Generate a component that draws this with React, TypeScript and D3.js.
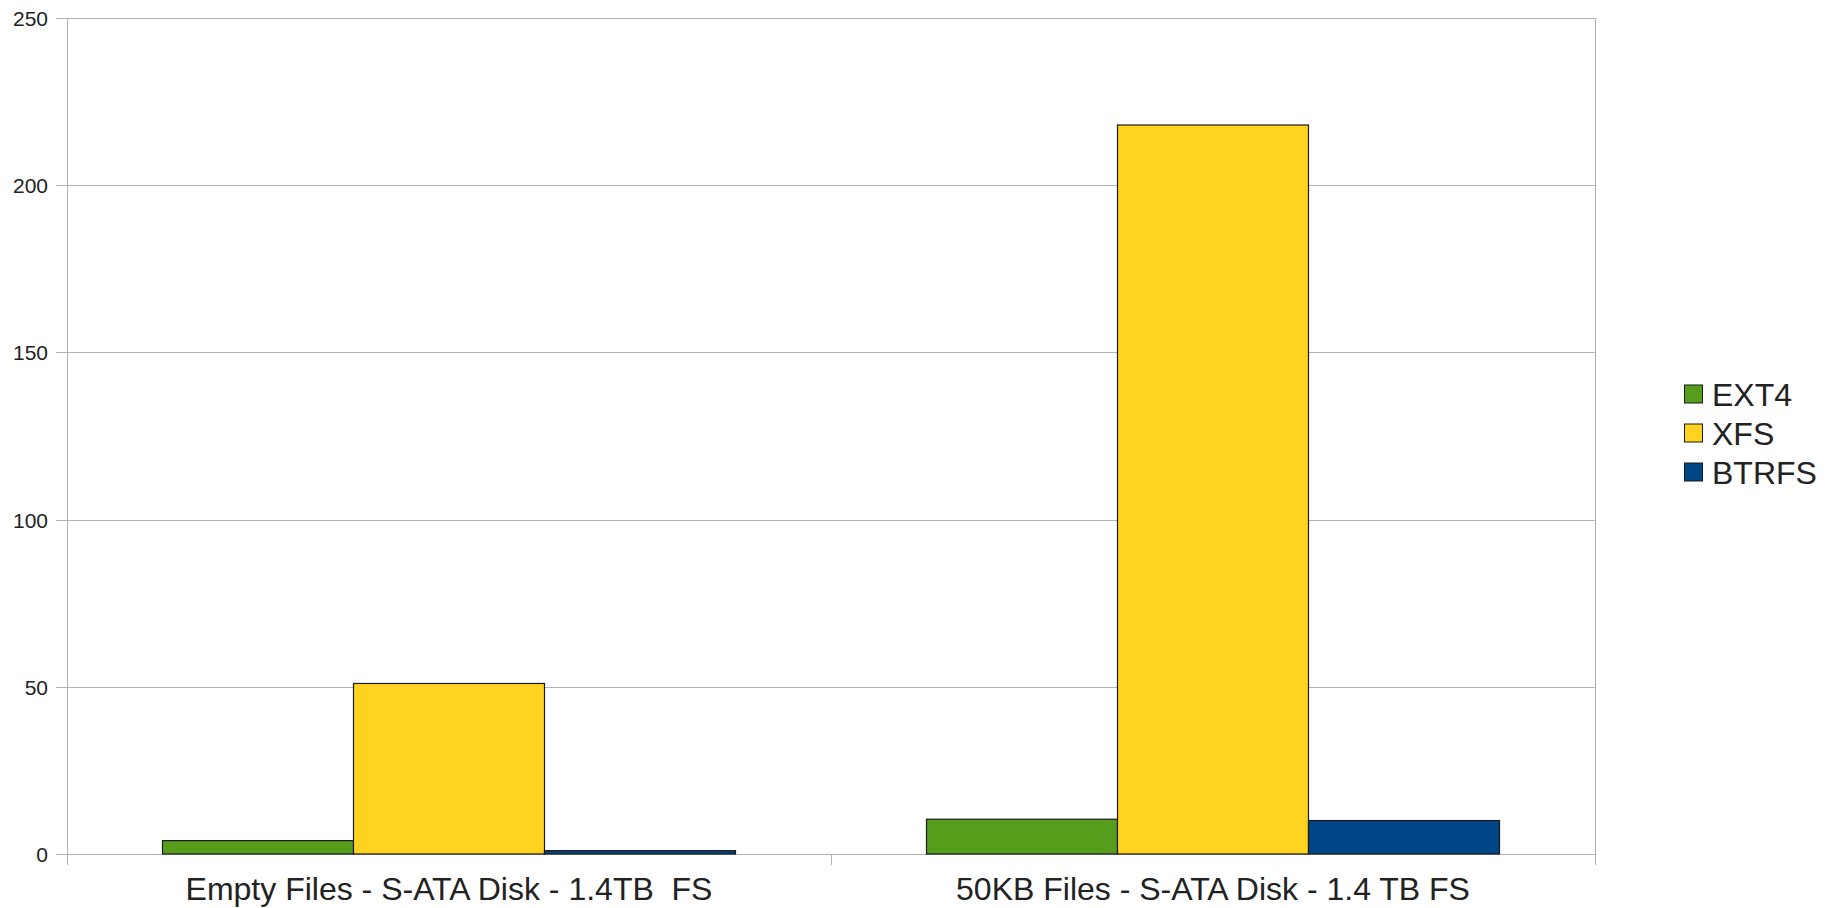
import React from "react";
import * as d3 from "d3";

const categories = [
  "Empty Files - S-ATA Disk - 1.4TB  FS",
  "50KB Files - S-ATA Disk - 1.4 TB FS",
];
const seriesNames = ["EXT4", "XFS", "BTRFS"];
const seriesColors = ["#579d1c", "#ffd320", "#004586"];
const ext4Values = [4, 10.4];
const xfsValues = [51, 218];
const btrfsValues = [1, 10];
const yTicks = [0, 50, 100, 150, 200, 250];

const seriesValues = [ext4Values, xfsValues, btrfsValues];

const W = 1835;
const H = 908;
const plot = { left: 67, right: 1595, top: 18, bottom: 854 };
const FONT = "'Liberation Sans', Arial, sans-serif";
const GRID = "#b3b3b3";

export default function App() {
  const x0 = d3
    .scaleBand<string>()
    .domain(categories)
    .range([plot.left, plot.right])
    .paddingInner(0.25)
    .paddingOuter(0.125);
  const x1 = d3
    .scaleBand<string>()
    .domain(seriesNames)
    .range([0, x0.bandwidth()])
    .padding(0);
  const y = d3.scaleLinear().domain([0, 250]).range([plot.bottom, plot.top]);

  const step = x0.step();
  const catEdges = [plot.left, ...categories.map((c, i) => plot.left + step * (i + 1))];

  const legendX = 1684;
  const legendY0 = 394.5;
  const legendStep = 39;

  return (
    <svg
      width={W}
      height={H}
      style={{ position: "absolute", left: 0, top: 0, background: "#fff" }}
      fontFamily={FONT}
    >
      <rect x={0} y={0} width={W} height={H} fill="#fff" />
      {/* horizontal grid lines with left tick stubs */}
      {yTicks.map((t) => (
        <g key={t}>
          <line
            x1={56}
            x2={plot.right}
            y1={Math.round(y(t)) + 0.5}
            y2={Math.round(y(t)) + 0.5}
            stroke={GRID}
            strokeWidth={1}
          />
          <text
            x={48}
            y={y(t) + 8}
            textAnchor="end"
            fontSize={21}
            fill="#222"
          >
            {t}
          </text>
        </g>
      ))}
      {/* left and right frame lines */}
      <line x1={plot.left + 0.5} x2={plot.left + 0.5} y1={plot.top} y2={865} stroke={GRID} />
      <line x1={plot.right + 0.5} x2={plot.right + 0.5} y1={plot.top} y2={865} stroke={GRID} />
      {/* category boundary ticks */}
      {catEdges.map((e, i) => (
        <line key={i} x1={Math.round(e) + 0.5} x2={Math.round(e) + 0.5} y1={plot.bottom} y2={865} stroke={GRID} />
      ))}
      {/* bars */}
      {categories.map((c, ci) => (
        <g key={c}>
          {seriesNames.map((s, si) => {
            const v = seriesValues[si][ci];
            const bx = (x0(c) ?? 0) + (x1(s) ?? 0);
            const by = y(v);
            return (
              <rect
                key={s}
                x={bx}
                y={by}
                width={x1.bandwidth()}
                height={plot.bottom - by}
                fill={seriesColors[si]}
                stroke="#1a1a1a"
                strokeWidth={1.2}
              />
            );
          })}
          <text
            x={(x0(c) ?? 0) + x0.bandwidth() / 2}
            y={900}
            textAnchor="middle"
            fontSize={32}
            fill="#222"
            style={{ whiteSpace: "pre" }}
          >
            {c}
          </text>
        </g>
      ))}
      {/* legend */}
      {seriesNames.map((s, i) => {
        const cy = legendY0 + i * legendStep;
        return (
          <g key={s}>
            <rect
              x={legendX + 0.5}
              y={cy - 9.5}
              width={18}
              height={18}
              fill={seriesColors[i]}
              stroke="#1a1a1a"
              strokeWidth={1}
            />
            <text x={1712} y={cy + 11.5} fontSize={32} fill="#222">
              {s}
            </text>
          </g>
        );
      })}
    </svg>
  );
}
